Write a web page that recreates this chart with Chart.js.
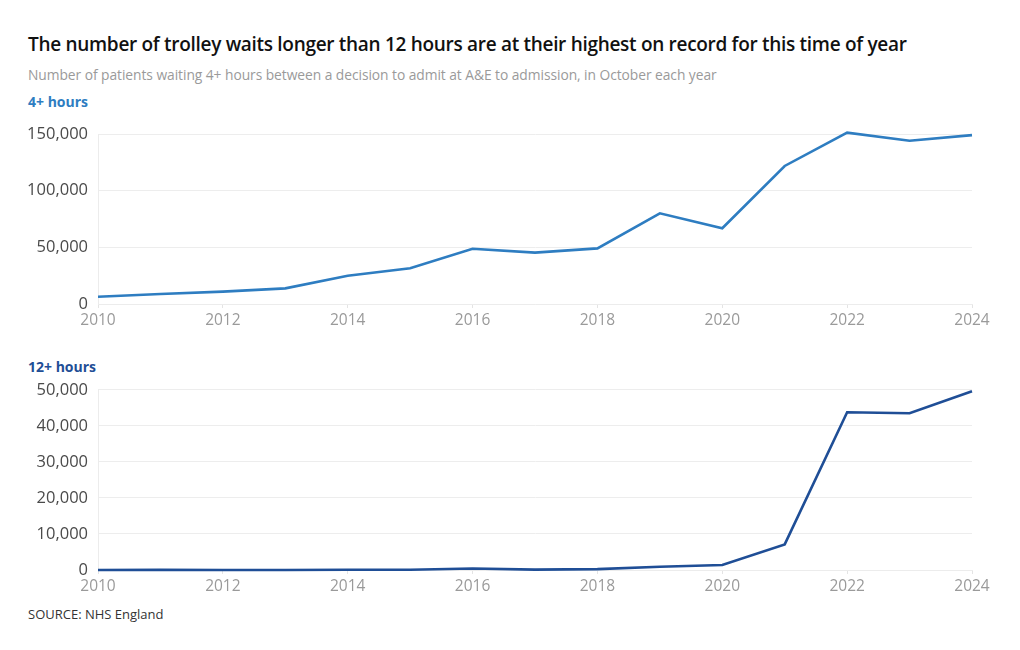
<!DOCTYPE html>
<html><head><meta charset="utf-8">
<script src="https://cdn.jsdelivr.net/npm/chart.js@4.4.1/dist/chart.umd.min.js"></script>
<style>
html,body{margin:0;padding:0;background:#fff;width:1020px;height:650px;overflow:hidden;font-family:"Open Sans",sans-serif;}
.t{position:absolute;white-space:nowrap;}
#title{left:28px;top:31px;font-size:19px;font-weight:600;color:#111;letter-spacing:-0.3px;}
#sub{left:28px;top:65px;font-size:13.8px;color:#9a9a9a;letter-spacing:-0.05px;}
#l1{left:28px;top:92px;font-size:14px;font-weight:700;color:#2e7dc1;}
#l2{left:28px;top:357px;font-size:14px;font-weight:700;color:#1f4e96;}
#src{left:28px;top:605px;font-size:13px;color:#333;}
.c{position:absolute;left:0;}
</style></head><body>
<div class="t" id="title">The number of trolley waits longer than 12 hours are at their highest on record for this time of year</div>
<div class="t" id="sub">Number of patients waiting 4+ hours between a decision to admit at A&amp;E to admission, in October each year</div>
<div class="t" id="l1">4+ hours</div>
<div class="t" id="l2">12+ hours</div>
<div class="t" id="src">SOURCE: NHS England</div>
<div class="c" style="top:110px;width:1020px;height:224px;"><canvas id="c1" width="1020" height="224"></canvas></div>
<div class="c" style="top:370px;width:1020px;height:230px;"><canvas id="c2" width="1020" height="230"></canvas></div>
<script>
const years = [2010,2011,2012,2013,2014,2015,2016,2017,2018,2019,2020,2021,2022,2023,2024];
const over4h = [6400,8800,10900,13800,25000,31500,48800,45300,49100,80000,66800,121800,151200,144000,149000];
const over12h = [10,30,5,20,50,60,400,100,250,900,1400,7100,43800,43500,49600];
const xTicks = [2010,2012,2014,2016,2018,2020,2022,2024];
const yTicksTop = [0,50000,100000,150000];
const yTicksBottom = [0,10000,20000,30000,40000,50000];

function makeChart(id, values, color, yMax, yTicks, padTop){
  const pts = years.map((y,i)=>({x:y,y:values[i]}));
  return new Chart(document.getElementById(id), {
    type:'line',
    data:{datasets:[{data:pts,borderColor:color,borderWidth:2.6,pointRadius:0,tension:0,fill:false,clip:false}]},
    options:{
      responsive:false,animation:false,
      layout:{padding:{left:0,right:48,top:padTop,bottom:0}},
      plugins:{legend:{display:false},tooltip:{enabled:false}},
      scales:{
        x:{type:'linear',min:2010,max:2024,
          afterBuildTicks:s=>{s.ticks=xTicks.map(v=>({value:v}));},
          afterFit:s=>{s.height=30;},
          ticks:{callback:v=>String(v),color:'#9a9a9a',font:{family:'"Open Sans"',size:15.5},padding:3,maxRotation:0,autoSkip:false},
          grid:{drawOnChartArea:false,drawTicks:true,tickLength:4,color:'#e4e4e4'},
          border:{display:true,color:'#ececec'}},
        y:{min:0,max:yMax,
          afterBuildTicks:s=>{s.ticks=yTicks.map(v=>({value:v}));},
          afterFit:s=>{s.width=98;},
          ticks:{callback:v=>v.toLocaleString('en-GB'),color:'#4a4a4a',font:{family:'"Open Sans"',size:16.5},padding:10},
          grid:{color:'#ededed',drawTicks:false},
          border:{display:true,color:'#ececec'}}
      }
    }
  });
}
makeChart('c1', over4h, '#2e7dc1', 150000, yTicksTop, 24);
makeChart('c2', over12h, '#1f4e96', 50000, yTicksBottom, 18);
</script>
</body></html>
